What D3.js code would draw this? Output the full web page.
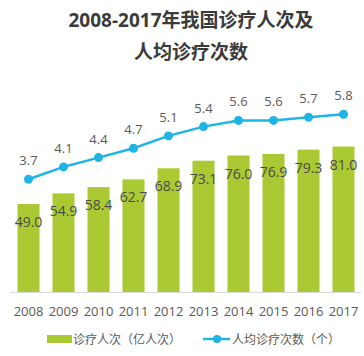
<!DOCTYPE html>
<html><head><meta charset="utf-8">
<script src="https://cdn.jsdelivr.net/npm/d3@7"></script>
<style>
body{margin:0;background:#fff;}
svg{display:block;font-family:"Open Sans","Noto Sans CJK SC",sans-serif;}
</style></head>
<body><svg id="c" width="364" height="356"></svg>
<script>
const years = ["2008","2009","2010","2011","2012","2013","2014","2015","2016","2017"];
const visits = [49.0,54.9,58.4,62.7,68.9,73.1,76.0,76.9,79.3,81.0];
const perCapita = [3.7,4.1,4.4,4.7,5.1,5.4,5.6,5.6,5.7,5.8];
const titleLines = ["2008-2017年我国诊疗人次及","人均诊疗次数"];
const legendLabels = ["诊疗人次（亿人次）","人均诊疗次数（个）"];

const svg = d3.select("#c");
const barColor = "#abc932", lineColor = "#1fb4e6";

const x = d3.scaleBand().domain(years).range([11,361]).paddingInner(0.37).paddingOuter(0.185);
const yBar = d3.scaleLinear().domain([0,100]).range([292,112.4]);
const yLine = d3.scaleLinear().domain([0,6]).range([294,108]);

svg.selectAll(".title").data(titleLines).join("text")
  .attr("x",191).attr("y",(d,i)=>27+i*32)
  .attr("text-anchor","middle").attr("font-size",19).attr("font-weight","bold")
  .attr("fill","#3b3b3b").text(d=>d);

svg.selectAll(".bar").data(visits).join("rect")
  .attr("x",(d,i)=>x(years[i])).attr("width",x.bandwidth())
  .attr("y",d=>yBar(d)).attr("height",d=>yBar(0)-yBar(d)).attr("fill",barColor);

svg.append("line").attr("x1",10).attr("x2",361).attr("y1",292.5).attr("y2",292.5)
  .attr("stroke","#d9d9d9").attr("stroke-width",1);

svg.selectAll(".blab").data(visits).join("text")
  .attr("x",(d,i)=>x(years[i])+x.bandwidth()/2).attr("y",d=>yBar(d)+23)
  .attr("text-anchor","middle").attr("font-size",14).attr("fill","#4a4a4a")
  .text(d=>d.toFixed(1));

const line = d3.line().x((d,i)=>x(years[i])+x.bandwidth()/2).y(d=>yLine(d));
svg.append("path").datum(perCapita).attr("d",line).attr("fill","none")
  .attr("stroke",lineColor).attr("stroke-width",2.5);
svg.selectAll(".dot").data(perCapita).join("circle")
  .attr("cx",(d,i)=>x(years[i])+x.bandwidth()/2).attr("cy",d=>yLine(d)).attr("r",4.5)
  .attr("fill",lineColor);
svg.selectAll(".llab").data(perCapita).join("text")
  .attr("x",(d,i)=>x(years[i])+x.bandwidth()/2).attr("y",d=>yLine(d)-14)
  .attr("text-anchor","middle").attr("font-size",13).attr("fill","#595959")
  .text(d=>d.toFixed(1));

const xAxis = d3.axisBottom(x).tickSize(0).tickPadding(0);
const ax = svg.append("g").attr("transform","translate(0,316)").call(xAxis);
ax.select(".domain").remove();
ax.selectAll("text").attr("font-size",13).attr("fill","#595959")
  .attr("font-family","'Open Sans',sans-serif").attr("dy",0);

const lg = svg.append("g");
lg.append("rect").attr("x",47).attr("y",335).attr("width",25).attr("height",8).attr("fill",barColor);
lg.append("text").attr("x",73).attr("y",343.5).attr("font-size",12).attr("fill","#595959").text(legendLabels[0]);
lg.append("line").attr("x1",203).attr("x2",230).attr("y1",339).attr("y2",339).attr("stroke",lineColor).attr("stroke-width",2.5);
lg.append("circle").attr("cx",217).attr("cy",339).attr("r",4).attr("fill",lineColor);
lg.append("text").attr("x",232).attr("y",343.5).attr("font-size",12).attr("fill","#595959").text(legendLabels[1]);
</script></body></html>
